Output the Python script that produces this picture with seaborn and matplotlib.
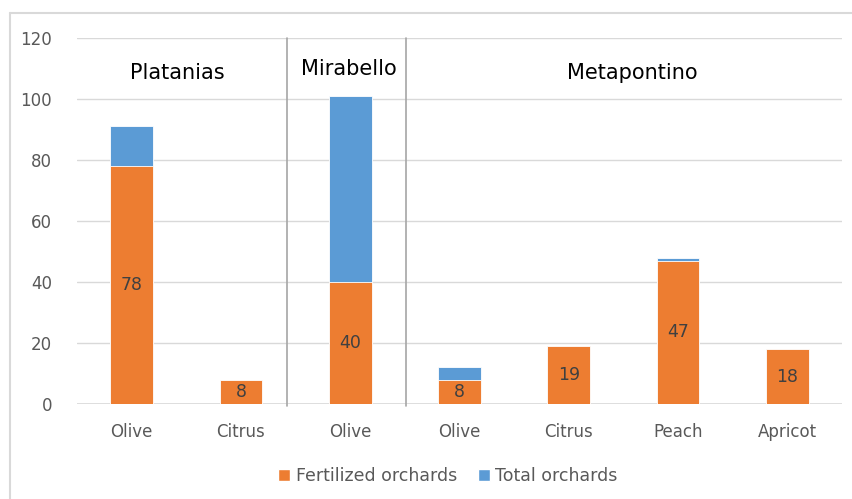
import pandas as pd
import matplotlib
matplotlib.use('Agg')
import matplotlib.pyplot as plt
from matplotlib.patches import Patch
from matplotlib.lines import Line2D
import seaborn as sns

# data
crops = ["Olive", "Citrus", "Olive", "Olive", "Citrus", "Peach", "Apricot"]
fertilized = [78, 8, 40, 8, 19, 47, 18]
total = [91, 8, 101, 12, 19, 48, 18]
regions = ["Platanias", "Mirabello", "Metapontino"]
region_x = [0.42, 1.99, 4.58]
region_y = [108.5, 110, 108.5]
separators = [1.42, 2.51]

orange = "#ED7D31"
blue = "#5B9BD5"

sns.set_style("white")
plt.rcParams['font.family'] = ['DejaVu Sans']

slots = [f"s{i}" for i in range(len(crops))]
df = pd.DataFrame({"slot": slots, "crop": crops,
                   "fertilized": fertilized, "total": total})

fig = plt.figure(figsize=(8.53, 4.99), dpi=100)
ax = fig.add_axes([0.0903, 0.1904, 0.8967, 0.7334])

sns.barplot(data=df, x="slot", y="total", order=slots, color=blue,
            saturation=1, width=0.39, ax=ax, zorder=2, linewidth=0.6)
sns.barplot(data=df, x="slot", y="fertilized", order=slots, color=orange,
            saturation=1, width=0.39, ax=ax, zorder=3, linewidth=0.6)

ax.set_ylim(0, 120)
ax.set_xlim(-0.5, len(crops) - 0.5)
ax.set_yticks(range(0, 121, 20))
ax.yaxis.grid(True, color="#D9D9D9", linewidth=1, zorder=0)
ax.set_axisbelow(True)
for s in ax.spines.values():
    s.set_visible(False)
ax.axhline(0, color="#D9D9D9", linewidth=1.2, zorder=1)
ax.set_xlabel("")
ax.set_ylabel("")
ax.set_xticks(range(len(crops)))
ax.set_xticklabels(crops)
ax.tick_params(axis="both", length=0, labelsize=12, colors="#595959")
ax.tick_params(axis="x", pad=14)
ax.tick_params(axis="y", pad=18)

# value labels in the middle of the orange part
for i, v in enumerate(fertilized):
    ax.text(i, v / 2, str(v), ha="center", va="center", fontsize=12.5,
            color="#404040", zorder=4)

# region separators and titles
for sx in separators:
    ax.plot([sx, sx], [-0.8, 120], color="#A6A6A6", linewidth=1.2,
            clip_on=False, zorder=1)
for name, rx, ry in zip(regions, region_x, region_y):
    ax.text(rx, ry, name, ha="center", va="center", fontsize=15,
            color="black")

handles = [Patch(facecolor=orange, label="Fertilized orchards"),
           Patch(facecolor=blue, label="Total orchards")]
fig.legend(handles=handles, loc="center", bbox_to_anchor=(0.525, 0.046),
           ncol=2, frameon=False, fontsize=12.5, handlelength=0.7,
           handleheight=0.7, handletextpad=0.3, columnspacing=1.2,
           labelcolor="#595959")

# chart area border
fig.add_artist(Line2D([10 / 853, 1], [1 - 13 / 499, 1 - 13 / 499],
                      color="#D9D9D9", linewidth=1.5))
fig.add_artist(Line2D([10 / 853, 10 / 853], [0, 1 - 13 / 499],
                      color="#D9D9D9", linewidth=1.5))

plt.savefig("out.png", dpi=100)
plt.close()
